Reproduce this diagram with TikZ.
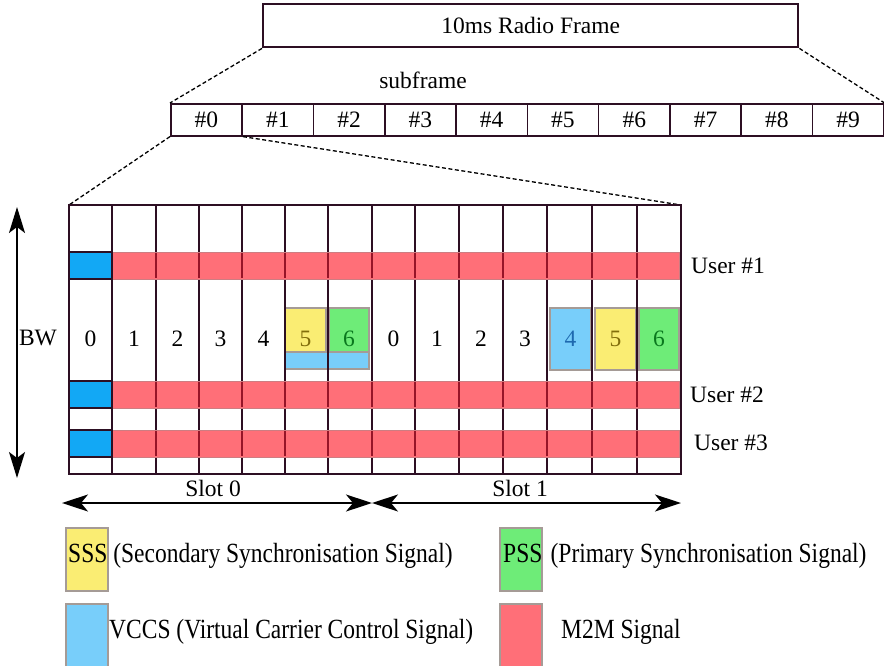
\documentclass[tikz,border=0pt]{standalone}
\usepackage{fontspec}
\newfontfamily\tnr{Liberation Serif}
\usetikzlibrary{arrows.meta}

\definecolor{gridc}{RGB}{45,15,35}
\definecolor{m2m}{RGB}{255,111,120}
\definecolor{m2medge}{RGB}{205,125,130}
\definecolor{bandline}{RGB}{150,20,40}
\definecolor{ctrl}{RGB}{18,168,245}
\definecolor{vccs}{RGB}{120,206,250}
\definecolor{sss}{RGB}{250,237,115}
\definecolor{pss}{RGB}{110,236,120}
\definecolor{sigedge}{RGB}{165,155,150}
\definecolor{sssnum}{RGB}{130,110,10}
\definecolor{pssnum}{RGB}{10,120,30}
\definecolor{vccsnum}{RGB}{30,105,175}

% taller type for the legend entries
\newcommand\vstretch[1]{\scalebox{1}[1.18]{#1}}

\begin{document}
\begin{tikzpicture}[x=1pt,y=-1pt,
  lbl/.style={font=\tnr\fontsize{23.5}{27}\selectfont, inner sep=0pt},
  framebox/.style={draw=gridc, line width=2.4pt, inner sep=0pt, anchor=north west,
    minimum width=535pt, minimum height=43pt, font=\tnr\fontsize{23.5}{27}\selectfont},
  cellbox/.style={draw=gridc, line width=1.6pt, inner sep=0pt, anchor=north west,
    minimum width=71.3pt, minimum height=32pt, font=\tnr\fontsize{23.5}{27}\selectfont},
  dashline/.style={draw=black, line width=1.3pt, dash pattern=on 4pt off 2.5pt},
  gridline/.style={draw=gridc, line width=2.2pt},
  sigbox/.style={draw=sigedge, line width=1.2pt},
  band/.style={fill=m2m, draw=m2medge, line width=1pt},
  bandseg/.style={draw=bandline, line width=2.2pt},
  bwarrow/.style={line width=1.6pt, {Stealth[length=26pt,width=16pt,inset=6pt]}-{Stealth[length=26pt,width=16pt,inset=6pt]}},
  slotarrow/.style={line width=1.6pt, {Stealth[length=26pt,width=17pt,inset=7pt]}-{Stealth[length=26pt,width=17pt,inset=7pt]}},
  legbox/.style={draw=sigedge, line width=2pt}
]
\useasboundingbox (0,0) rectangle (884,665);

% radio frame and its ten subframes
\node[framebox] (frame) at (262,3) {10ms Radio Frame};
\node[lbl] (sublabel) at (423,80) {subframe};
\foreach \i in {0,...,9}
  \node[cellbox] (sf\i) at ({170+71.3*\i},103) {\#\i};

\coordinate (gNW) at (69,205);
\coordinate (gNE) at (681,205);
\draw[dashline] (frame.south west) -- (sf0.north west);
\draw[dashline] (frame.south east) -- (sf9.north east);
\draw[dashline] (sf0.south west) -- (gNW);
\draw[dashline] (sf0.south east) -- (gNE);

% resource grid of one subframe
\fill[white] (69,205) rectangle (681,474);

% synchronisation and control signals
\draw[sigbox, fill=sss] (285,308) rectangle (326,352);
\draw[sigbox, fill=pss] (329,308) rectangle (369,352);
\draw[sigbox, fill=vccs] (285,352) rectangle (369,369);
\draw[sigbox, fill=vccs] (550,308) rectangle (591,370);
\draw[sigbox, fill=sss] (595,308) rectangle (636,370);
\draw[sigbox, fill=pss] (639,308) rectangle (679,370);

% OFDM symbol columns
\foreach \x in {112,156,199,242,285,328,372,415,459,503,547,592,637}
  \draw[gridline] (\x,205) -- (\x,474);
\draw[gridline] (69,205) rectangle (681,474);

% symbol numbers, two slots of seven
\foreach \x/\n in {90.5/0,134/1,177.5/2,220.5/3,263.5/4,393.5/0,437/1,481/2,525/3}
  \node[lbl] at (\x,339) {\n};
\node[lbl, text=sssnum] at (305.5,339) {5};
\node[lbl, text=pssnum] at (349,339) {6};
\node[lbl, text=vccsnum] at (570.5,339) {4};
\node[lbl, text=sssnum] at (615.5,339) {5};
\node[lbl, text=pssnum] at (659,339) {6};

% M2M user bands with their control blocks
\foreach \ya/\yb in {252/279,381/408,430/457}{
  \draw[band] (112,\ya) rectangle (679,\yb);
  \foreach \x in {156,199,242,285,328,372,415,459,503,547,592,637}
    \draw[bandseg] (\x,\ya+1) -- (\x,\yb-1);
  \draw[gridc, line width=1.8pt, fill=ctrl] (69,\ya) rectangle (112,\yb);
}

\node[lbl, anchor=west] (u1) at (691,266) {User \#1};
\node[lbl, anchor=west] (u2) at (690,395) {User \#2};
\node[lbl, anchor=west] (u3) at (694,443) {User \#3};

% bandwidth axis
\coordinate (bwTop) at (17,207);
\coordinate (bwBot) at (17,478);
\draw[bwarrow] (bwTop) -- (bwBot);
\node[lbl] (bw) at (38,338) {BW};

% slot axis
\coordinate (s0) at (62,503);
\coordinate (smid) at (372,503);
\coordinate (s1) at (681,503);
\draw[slotarrow] (s0) -- (smid);
\draw[slotarrow] (smid) -- (s1);
\node[lbl] (slot0) at (213,488) {Slot 0};
\node[lbl] (slot1) at (520,488) {Slot 1};

% legend
\draw[legbox, fill=sss] (66,528) rectangle (108,591);
\draw[legbox, fill=pss] (500,528) rectangle (542,591);
\draw[legbox, fill=vccs] (66,604) rectangle (108,668);
\draw[legbox, fill=m2m] (500,604) rectangle (542,668);
\node[lbl, anchor=west] (legsss) at (68,556) {\vstretch{SSS (Secondary Synchronisation Signal)}};
\node[lbl, anchor=west] (legpss) at (503,556) {\vstretch{PSS\hspace{0.35em}(Primary Synchronisation Signal)}};
\node[lbl, anchor=west] (legvccs) at (109,632) {\vstretch{VCCS (Virtual Carrier Control Signal)}};
\node[lbl, anchor=west] (legm2m) at (561,632) {\vstretch{M2M Signal}};
\end{tikzpicture}
\end{document}
